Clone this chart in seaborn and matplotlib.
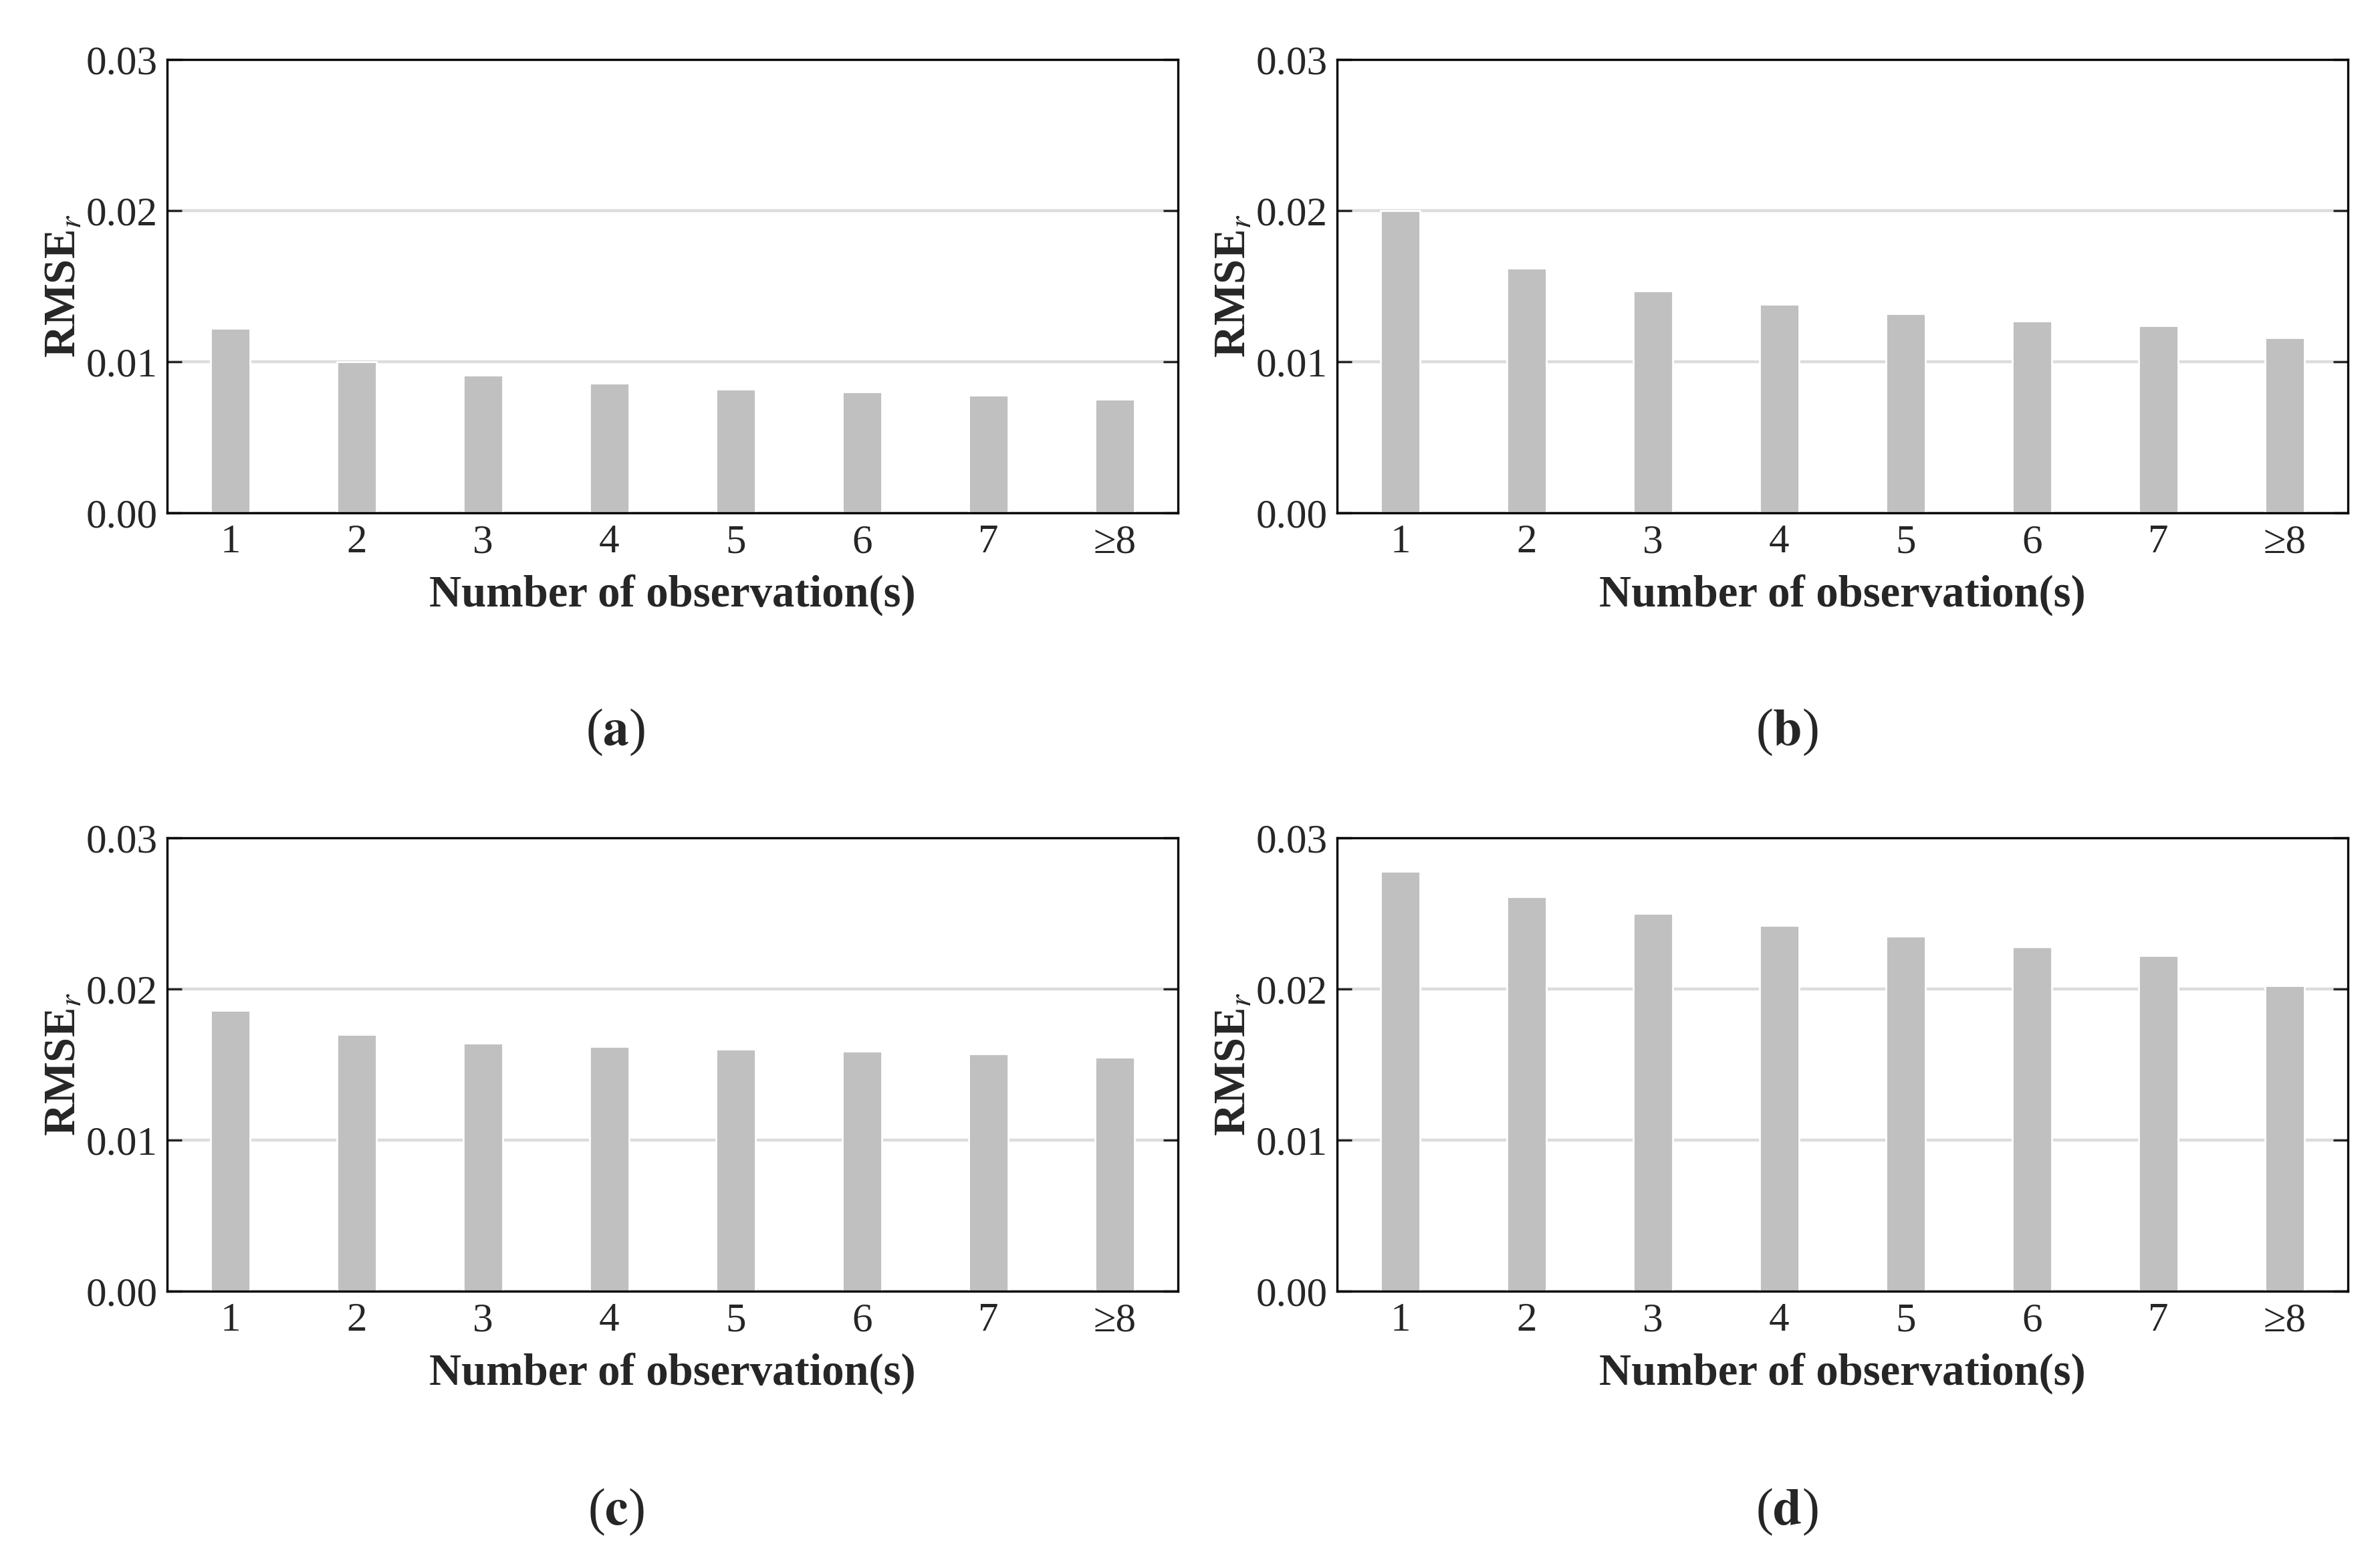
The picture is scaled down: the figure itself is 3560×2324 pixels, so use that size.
import numpy as np
import pandas as pd
import matplotlib
matplotlib.use("Agg")
import matplotlib.pyplot as plt
import seaborn as sns

obs_labels = ["1", "2", "3", "4", "5", "6", "7", "\u22658"]

rmse_a = [0.0122, 0.0100, 0.0091, 0.0086, 0.0082, 0.0080, 0.0078, 0.0075]
rmse_b = [0.0200, 0.0162, 0.0147, 0.0138, 0.0132, 0.0127, 0.0124, 0.0116]
rmse_c = [0.0186, 0.0170, 0.0164, 0.0162, 0.0160, 0.0159, 0.0157, 0.0155]
rmse_d = [0.0278, 0.0261, 0.0250, 0.0242, 0.0235, 0.0228, 0.0222, 0.0202]

panel_names = ["a", "b", "c", "d"]
yticks = [0.00, 0.01, 0.02, 0.03]

sns.set_style("white")
plt.rcParams['font.family'] = ['Liberation Serif', 'DejaVu Serif']
plt.rcParams['mathtext.fontset'] = 'stix'

fig = plt.figure(figsize=(17.8, 11.62), dpi=200)

# axes boxes in pixels (x0, y0, x1, y1), converted to figure fractions below
W, H = 3560, 2324
boxes = [
    (250, 89, 1762, 767),
    (2000, 89, 3512, 767),
    (250, 1253, 1762, 1931),
    (2000, 1253, 3512, 1931),
]
label_pos = [(921, 1095), (2673, 1095), (921, 2261), (2673, 2261)]

for name, vals, box, lp in zip(panel_names, [rmse_a, rmse_b, rmse_c, rmse_d], boxes, label_pos):
    x0, y0, x1, y1 = box
    ax = fig.add_axes([x0 / W, 1 - y1 / H, (x1 - x0) / W, (y1 - y0) / H])
    df = pd.DataFrame({"obs": obs_labels, "rmse": vals})
    sns.barplot(data=df, x="obs", y="rmse", color="#c0c0c0", width=0.31,
                saturation=1, ax=ax, zorder=2)
    ax.set_xlim(-0.5, 7.5)
    ax.set_ylim(0, 0.03)
    ax.set_yticks(yticks)
    ax.set_yticklabels(["0.00", "0.01", "0.02", "0.03"])
    ax.yaxis.grid(True, color="#dcdcdc", linewidth=1.6, zorder=0)
    ax.set_axisbelow(True)
    ax.tick_params(axis="y", direction="in", length=8, width=1.2, left=True, right=True,
                   labelsize=22, pad=5)
    ax.tick_params(axis="x", length=0, labelsize=22, pad=6)
    for sp in ax.spines.values():
        sp.set_visible(True)
        sp.set_color("black")
        sp.set_linewidth(1.2)
    ax.set_xlabel("Number of observation(s)", fontsize=24, fontweight="bold", labelpad=7)
    ax.set_ylabel(r"RMSE$_{r}$", fontsize=24, fontweight="bold", labelpad=1)
    fig.text(lp[0] / W, 1 - lp[1] / H, r"($\mathbf{%s}$)" % name, fontsize=28,
             ha="center", va="center")

fig.savefig("out.png", dpi=200)
